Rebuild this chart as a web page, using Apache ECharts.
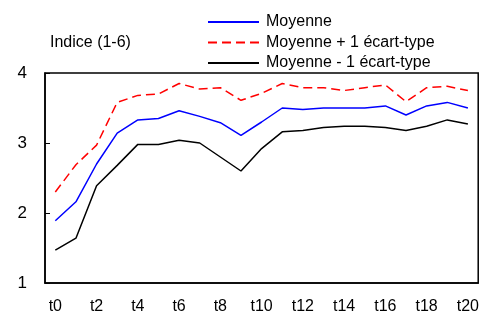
<!DOCTYPE html>
<html>
<head>
<meta charset="utf-8">
<script src="https://cdn.jsdelivr.net/npm/echarts@6/dist/echarts.min.js"></script>
<style>
  html, body { margin: 0; padding: 0; background: #fff; }
  #chart { width: 482px; height: 316px; }
</style>
</head>
<body>
<div id="chart"></div>
<script>
var categories = ["t0","t1","t2","t3","t4","t5","t6","t7","t8","t9","t10",
                  "t11","t12","t13","t14","t15","t16","t17","t18","t19","t20"];
var moyenne = [1.89,2.16,2.70,3.14,3.33,3.35,3.46,3.38,3.29,3.11,3.30,
               3.50,3.48,3.50,3.50,3.50,3.53,3.40,3.53,3.58,3.50];
var moyennePlus = [2.30,2.69,2.97,3.58,3.68,3.70,3.85,3.77,3.79,3.61,3.71,
                   3.85,3.79,3.79,3.75,3.79,3.83,3.59,3.79,3.81,3.75];
var moyenneMoins = [1.47,1.64,2.39,2.68,2.98,2.98,3.04,3.00,2.80,2.60,2.92,
                    3.16,3.18,3.22,3.24,3.24,3.22,3.18,3.24,3.33,3.27];
var yTicks = [1,2,3,4];

var myChart = echarts.init(document.getElementById("chart"));
var font = "'Liberation Sans', Arial, sans-serif";

var option = {
    animation: false,
    title: {
        text: "Indice (1-6)",
        left: 50,
        top: 35,
        padding: 0,
        textStyle: { fontFamily: font, fontSize: 16, fontWeight: "normal", color: "#000" }
    },
    legend: {
        orient: "vertical",
        left: 207,
        top: 14,
        padding: 0,
        itemWidth: 51,
        itemHeight: 10,
        itemGap: 4.5,
        itemStyle: { opacity: 0 },
        textStyle: { fontFamily: font, fontSize: 16, lineHeight: 16, color: "#000", padding: [0, 0, 0, 2] },
        data: ["Moyenne", "Moyenne + 1 écart-type", "Moyenne - 1 écart-type"]
    },
    grid: {
        left: 45, right: 3, top: 73, bottom: 33,
        show: true, borderColor: "#000", borderWidth: 1.5
    },
    xAxis: {
        type: "category",
        data: categories,
        boundaryGap: true,
        axisLine: { lineStyle: { color: "#000", width: 1.5 } },
        axisTick: { inside: true, length: 5, interval: 0, lineStyle: { color: "#000" } },
        axisLabel: { interval: 1, margin: 16, fontFamily: font, fontSize: 16, color: "#000" }
    },
    yAxis: {
        type: "value",
        min: yTicks[0],
        max: yTicks[yTicks.length - 1],
        interval: 1,
        axisLine: { show: true, lineStyle: { color: "#000", width: 1.5 } },
        axisTick: { show: true, inside: true, length: 5, lineStyle: { color: "#000" } },
        splitLine: { show: false },
        axisLabel: { margin: 18, fontFamily: font, fontSize: 17, color: "#000" }
    },
    series: [
        {
            name: "Moyenne",
            type: "line",
            data: moyenne,
            symbol: "none",
            color: "#0000ff",
            lineStyle: { color: "#0000ff", width: 1.5 }
        },
        {
            name: "Moyenne + 1 écart-type",
            type: "line",
            data: moyennePlus,
            symbol: "none",
            color: "#ff0000",
            lineStyle: { color: "#ff0000", width: 1.5, type: [9, 5] }
        },
        {
            name: "Moyenne - 1 écart-type",
            type: "line",
            data: moyenneMoins,
            symbol: "none",
            color: "#000000",
            lineStyle: { color: "#000000", width: 1.5 }
        }
    ]
};
myChart.setOption(option);
</script>
</body>
</html>
